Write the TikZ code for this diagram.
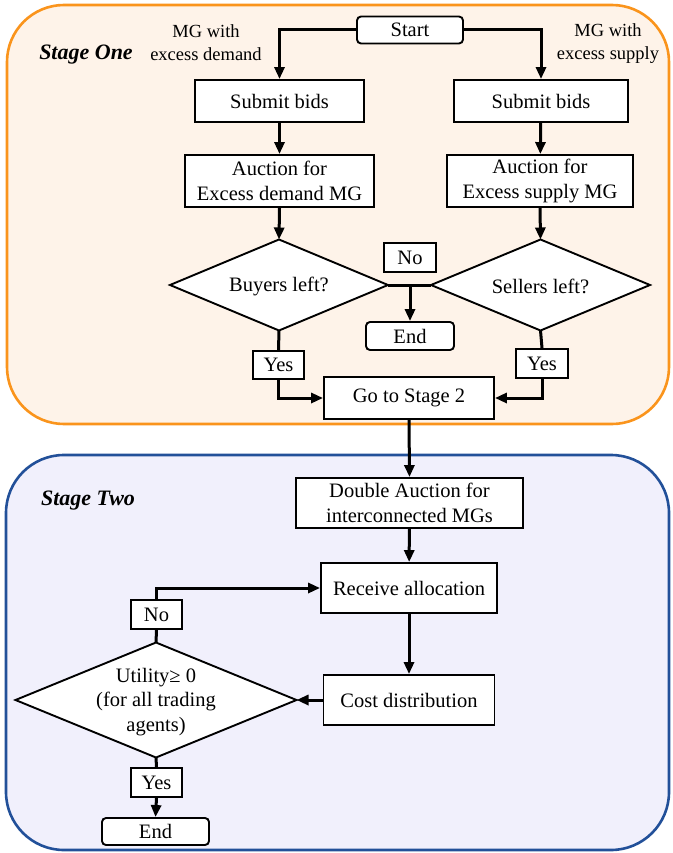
\documentclass[tikz,border=0pt]{standalone}
\usepackage{fontspec}
\setmainfont{Liberation Serif}
\usetikzlibrary{arrows.meta,shapes.geometric}
\definecolor{oneborder}{RGB}{250,148,28}
\definecolor{onefill}{RGB}{254,243,233}
\definecolor{twoborder}{RGB}{34,80,153}
\definecolor{twofill}{RGB}{241,240,252}
\tikzset{
  box/.style={draw=black, line width=1.9pt, fill=white, inner sep=0pt, align=center,
    font=\fontsize{20.5}{24.5}\selectfont},
  rbox/.style={box, rounded corners=4pt},
  lbl/.style={box},
  dia/.style={draw=black, line width=1.9pt, fill=white, shape=diamond, inner sep=0pt, outer sep=0pt},
  diatext/.style={inner sep=0pt, align=center, font=\fontsize{20.5}{24.5}\selectfont},
  note/.style={inner sep=0pt, align=center, font=\fontsize{18.5}{23}\selectfont},
  stagelbl/.style={inner sep=0pt, font=\fontsize{22}{26}\selectfont\bfseries\itshape},
  arr/.style={line width=3pt, -{Triangle[length=12pt,width=10pt]}},
  ln/.style={line width=3pt},
}
\begin{document}
\begin{tikzpicture}[x=1pt,y=-1pt]
\useasboundingbox (0,0) rectangle (672,853);
% stage frames
\draw[draw=oneborder, fill=onefill, line width=2.6pt, rounded corners=57pt] (7,5) rectangle (669,424);
\draw[draw=twoborder, fill=twofill, line width=2.6pt, rounded corners=58pt] (6,455) rectangle (669,850);
\node[stagelbl] (s1) at (86,55) {Stage One};
\node[stagelbl] (s2) at (88,501) {Stage Two};
% notes
\node[note] (n1) at (206,43) {MG with\\excess demand};
\node[note] (n2) at (608,44) {MG with\\excess supply};
% stage one nodes
\node[rbox, minimum width=106pt, minimum height=27pt] (start) at (410,30) {Start};
\node[box, minimum width=169pt, minimum height=42pt] (sb1) at (279.5,101) {Submit bids};
\node[box, minimum width=174pt, minimum height=42pt] (sb2) at (541,101) {Submit bids};
\node[box, minimum width=189pt, minimum height=52pt] (au1) at (279.5,181) {Auction for\\Excess demand MG};
\node[box, minimum width=186pt, minimum height=52pt] (au2) at (540,181) {Auction for\\Excess supply MG};
\node[dia, minimum width=218pt, minimum height=91pt] (d1) at (279,285) {};
\node[diatext] (d1t) at (279,286) {Buyers left?};
\node[dia, minimum width=219pt, minimum height=91pt] (d2) at (540.5,285) {};
\node[diatext] (d2t) at (540.5,286) {Sellers left?};
\node[lbl, minimum width=52pt, minimum height=29pt] (no1) at (410,257.5) {No};
\node[rbox, minimum width=88pt, minimum height=28pt] (end1) at (410,336) {End};
\node[lbl, minimum width=51pt, minimum height=28pt] (yes1) at (278.5,365) {Yes};
\node[lbl, minimum width=52pt, minimum height=29pt] (yes2) at (542,363.5) {Yes};
\node[box, minimum width=170pt, minimum height=42pt] (go) at (409,398) {Go to Stage 2};
% stage two nodes
\node[box, minimum width=227pt, minimum height=50pt] (da) at (409.5,503) {Double Auction for\\interconnected MGs};
\node[box, minimum width=176pt, minimum height=50pt] (ra) at (409,588) {Receive allocation};
\node[box, minimum width=171pt, minimum height=50pt] (cd) at (409,700) {Cost distribution};
\node[dia, minimum width=281pt, minimum height=115pt] (d3) at (156,700) {};
\node[diatext] (d3t) at (156,702) {Utility≥ 0\\(for all trading\\agents)};
\node[lbl, minimum width=51pt, minimum height=29pt] (no2) at (156.5,614.5) {No};
\node[lbl, minimum width=51pt, minimum height=29pt] (yes3) at (156.5,782.5) {Yes};
\node[rbox, minimum width=107pt, minimum height=27pt] (end2) at (155.5,831.5) {End};
% connectors stage one
\draw[arr] (start.west) -| (sb1.north);
\draw[arr] (start.east) -| (sb2.north);
\draw[arr] (sb1) -- (au1);
\draw[arr] (sb2) -- (au2);
\draw[arr] (au1.south) -- (d1.north);
\draw[arr] (au2.south) -- (d2.north);
\draw[ln] (d1.east) -- (d2.west);
\coordinate (j1) at (end1.north |- d1.east);
\draw[arr] (j1) -- (end1.north);
\draw[ln] (d1.south) -- (yes1.north);
\draw[ln] (d2.south) -- (yes2.north);
\draw[arr] (yes1.south) |- (go.west);
\draw[arr] (yes2.south) |- (go.east);
\draw[arr] (go.south) -- (da.north);
% connectors stage two
\draw[arr] (da) -- (ra);
\draw[arr] (ra) -- (cd);
\draw[arr] (cd.west) -- (d3.east);
\draw[ln] (d3.north) -- (no2.south);
\draw[arr] (no2.north) |- (ra.west);
\draw[ln] (d3.south) -- (yes3.north);
\draw[arr] (yes3.south) -- (end2.north);
\end{tikzpicture}
\end{document}
